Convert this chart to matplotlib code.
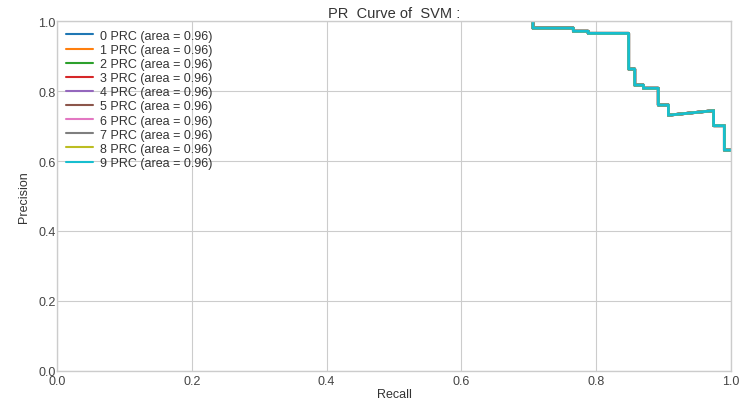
import numpy as np
import matplotlib
matplotlib.use('Agg')
import matplotlib.pyplot as plt

# ---------------- data ----------------
classes = [str(i) for i in range(10)]
areas = [0.96] * 10
recall = [0.706, 0.706, 0.766, 0.766, 0.788, 0.788, 0.848, 0.848, 0.857, 0.857,
          0.870, 0.870, 0.892, 0.892, 0.907, 0.907, 0.974, 0.974, 0.990, 0.990, 1.0]
precision = [1.0, 0.980, 0.980, 0.971, 0.971, 0.965, 0.965, 0.863, 0.863, 0.817,
             0.817, 0.808, 0.808, 0.760, 0.760, 0.731, 0.744, 0.701, 0.701, 0.631, 0.631]

# ---------------- figure ----------------
plt.style.use('seaborn-v0_8-whitegrid')
plt.rcParams['font.family'] = ['Liberation Sans', 'DejaVu Sans']

fig = plt.figure(figsize=(7.4, 4.02), dpi=100)
ax = fig.add_axes([0.077, 0.075, 0.911, 0.870])

for c, a in zip(classes, areas):
    ax.plot(recall, precision, lw=2, label='%s PRC (area = %.2f)' % (c, a))

ax.set_xlim(0, 1)
ax.set_ylim(0, 1)
ax.set_xticks(np.arange(0, 1.01, 0.2))
ax.set_yticks(np.arange(0, 1.01, 0.2))
ax.tick_params(axis='x', labelsize=9, pad=3, labelcolor='#444444')
ax.tick_params(axis='y', labelsize=9, pad=1, labelcolor='#444444')
ax.set_xlabel('Recall', fontsize=9, labelpad=1, color='#333333')
ax.set_ylabel('Precision', fontsize=9, labelpad=6, color='#333333')
ax.set_title('PR  Curve of  SVM :', fontsize=10.5, pad=3, color='#333333')

leg = ax.legend(loc='upper left', fontsize=9, frameon=False,
                handlelength=2.2, handletextpad=0.55, labelspacing=0.17,
                borderaxespad=0.3)
for h in leg.get_lines():
    h.set_linewidth(1.5)
for t in leg.get_texts():
    t.set_color('#333333')

plt.savefig('out.png', dpi=100)
